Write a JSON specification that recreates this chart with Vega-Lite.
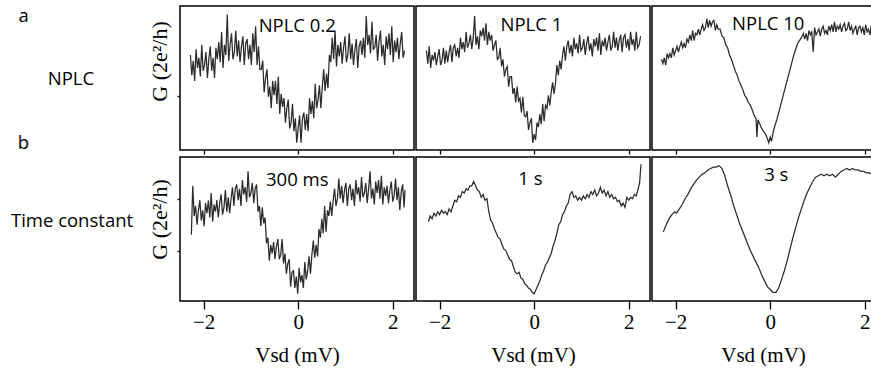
{
"$schema": "https://vega.github.io/schema/vega-lite/v6.json",
"padding": {"left": 0, "top": 5, "right": 0, "bottom": 0},
"background": "#ffffff",
"config": {
 "view": {"stroke": "#000000", "strokeWidth": 1.5},
 "axis": {"domain": false, "grid": false, "tickColor": "#000000", "tickWidth": 1.3, "labelColor": "#000000", "titleColor": "#000000"},
 "line": {"color": "#2b2b2b", "strokeWidth": 1.25},
 "text": {"font": "Open Sans", "fontSize": 18.5, "color": "#000000"}
},
"datasets": {
 "np02": [{"v":-2.28,"g":0.66},{"v":-2.25,"g":0.52},{"v":-2.22,"g":0.62},{"v":-2.19,"g":0.48},{"v":-2.16,"g":0.7},{"v":-2.13,"g":0.57},{"v":-2.1,"g":0.64},{"v":-2.07,"g":0.51},{"v":-2.04,"g":0.73},{"v":-2.01,"g":0.55},{"v":-1.98,"g":0.59},{"v":-1.95,"g":0.68},{"v":-1.92,"g":0.5},{"v":-1.89,"g":0.63},{"v":-1.86,"g":0.72},{"v":-1.83,"g":0.55},{"v":-1.8,"g":0.64},{"v":-1.77,"g":0.5},{"v":-1.74,"g":0.71},{"v":-1.71,"g":0.63},{"v":-1.68,"g":0.75},{"v":-1.65,"g":0.61},{"v":-1.62,"g":0.82},{"v":-1.59,"g":0.57},{"v":-1.56,"g":0.73},{"v":-1.53,"g":0.66},{"v":-1.5,"g":0.94},{"v":-1.47,"g":0.62},{"v":-1.44,"g":0.73},{"v":-1.41,"g":0.81},{"v":-1.38,"g":0.63},{"v":-1.35,"g":0.68},{"v":-1.32,"g":0.83},{"v":-1.29,"g":0.65},{"v":-1.26,"g":0.76},{"v":-1.23,"g":0.61},{"v":-1.2,"g":0.72},{"v":-1.17,"g":0.79},{"v":-1.14,"g":0.59},{"v":-1.11,"g":0.74},{"v":-1.08,"g":0.77},{"v":-1.05,"g":0.63},{"v":-1.02,"g":0.73},{"v":-0.99,"g":0.59},{"v":-0.96,"g":0.81},{"v":-0.93,"g":0.68},{"v":-0.9,"g":0.86},{"v":-0.87,"g":0.59},{"v":-0.84,"g":0.72},{"v":-0.81,"g":0.56},{"v":-0.78,"g":0.56},{"v":-0.75,"g":0.62},{"v":-0.72,"g":0.4},{"v":-0.69,"g":0.5},{"v":-0.66,"g":0.56},{"v":-0.63,"g":0.37},{"v":-0.6,"g":0.44},{"v":-0.57,"g":0.29},{"v":-0.54,"g":0.48},{"v":-0.51,"g":0.38},{"v":-0.48,"g":0.48},{"v":-0.45,"g":0.32},{"v":-0.42,"g":0.51},{"v":-0.39,"g":0.25},{"v":-0.36,"g":0.39},{"v":-0.33,"g":0.3},{"v":-0.3,"g":0.36},{"v":-0.27,"g":0.19},{"v":-0.24,"g":0.29},{"v":-0.21,"g":0.35},{"v":-0.18,"g":0.15},{"v":-0.15,"g":0.19},{"v":-0.12,"g":0.32},{"v":-0.09,"g":0.13},{"v":-0.06,"g":0.22},{"v":-0.03,"g":0.05},{"v":0.0,"g":0.15},{"v":0.03,"g":0.24},{"v":0.06,"g":0.05},{"v":0.09,"g":0.22},{"v":0.12,"g":0.26},{"v":0.15,"g":0.14},{"v":0.18,"g":0.25},{"v":0.21,"g":0.13},{"v":0.24,"g":0.36},{"v":0.27,"g":0.25},{"v":0.3,"g":0.34},{"v":0.33,"g":0.22},{"v":0.36,"g":0.46},{"v":0.39,"g":0.29},{"v":0.42,"g":0.35},{"v":0.45,"g":0.45},{"v":0.48,"g":0.29},{"v":0.51,"g":0.44},{"v":0.54,"g":0.56},{"v":0.57,"g":0.41},{"v":0.6,"g":0.53},{"v":0.63,"g":0.43},{"v":0.66,"g":0.66},{"v":0.69,"g":0.61},{"v":0.72,"g":0.78},{"v":0.75,"g":0.63},{"v":0.78,"g":0.83},{"v":0.81,"g":0.58},{"v":0.84,"g":0.73},{"v":0.87,"g":0.65},{"v":0.9,"g":0.75},{"v":0.93,"g":0.6},{"v":0.96,"g":0.71},{"v":0.99,"g":0.79},{"v":1.02,"g":0.61},{"v":1.05,"g":0.66},{"v":1.08,"g":0.81},{"v":1.11,"g":0.63},{"v":1.14,"g":0.74},{"v":1.17,"g":0.59},{"v":1.2,"g":0.7},{"v":1.23,"g":0.77},{"v":1.26,"g":0.57},{"v":1.29,"g":0.72},{"v":1.32,"g":0.76},{"v":1.35,"g":0.66},{"v":1.38,"g":0.78},{"v":1.41,"g":0.64},{"v":1.44,"g":0.93},{"v":1.47,"g":0.73},{"v":1.5,"g":0.8},{"v":1.53,"g":0.67},{"v":1.56,"g":0.89},{"v":1.59,"g":0.7},{"v":1.62,"g":0.71},{"v":1.65,"g":0.8},{"v":1.68,"g":0.62},{"v":1.71,"g":0.75},{"v":1.74,"g":0.83},{"v":1.77,"g":0.65},{"v":1.8,"g":0.73},{"v":1.83,"g":0.59},{"v":1.86,"g":0.79},{"v":1.89,"g":0.7},{"v":1.92,"g":0.81},{"v":1.95,"g":0.66},{"v":1.98,"g":0.86},{"v":2.01,"g":0.61},{"v":2.04,"g":0.76},{"v":2.07,"g":0.68},{"v":2.1,"g":0.78},{"v":2.13,"g":0.63},{"v":2.16,"g":0.74},{"v":2.19,"g":0.82},{"v":2.22,"g":0.64},{"v":2.25,"g":0.69}],
 "np1": [{"v":-2.28,"g":0.69},{"v":-2.25,"g":0.6},{"v":-2.22,"g":0.72},{"v":-2.19,"g":0.57},{"v":-2.16,"g":0.66},{"v":-2.13,"g":0.62},{"v":-2.1,"g":0.68},{"v":-2.07,"g":0.59},{"v":-2.04,"g":0.65},{"v":-2.01,"g":0.7},{"v":-1.98,"g":0.59},{"v":-1.95,"g":0.62},{"v":-1.92,"g":0.71},{"v":-1.89,"g":0.6},{"v":-1.86,"g":0.69},{"v":-1.83,"g":0.61},{"v":-1.8,"g":0.68},{"v":-1.77,"g":0.73},{"v":-1.74,"g":0.61},{"v":-1.71,"g":0.71},{"v":-1.68,"g":0.73},{"v":-1.65,"g":0.65},{"v":-1.62,"g":0.71},{"v":-1.59,"g":0.64},{"v":-1.56,"g":0.78},{"v":-1.53,"g":0.7},{"v":-1.5,"g":0.75},{"v":-1.47,"g":0.68},{"v":-1.44,"g":0.82},{"v":-1.41,"g":0.71},{"v":-1.38,"g":0.74},{"v":-1.35,"g":0.8},{"v":-1.32,"g":0.7},{"v":-1.29,"g":0.78},{"v":-1.26,"g":0.93},{"v":-1.23,"g":0.73},{"v":-1.2,"g":0.79},{"v":-1.17,"g":0.7},{"v":-1.14,"g":0.83},{"v":-1.11,"g":0.79},{"v":-1.08,"g":0.85},{"v":-1.05,"g":0.76},{"v":-1.02,"g":0.88},{"v":-0.99,"g":0.73},{"v":-0.96,"g":0.82},{"v":-0.93,"g":0.76},{"v":-0.9,"g":0.8},{"v":-0.87,"g":0.69},{"v":-0.84,"g":0.73},{"v":-0.81,"g":0.76},{"v":-0.78,"g":0.63},{"v":-0.75,"g":0.64},{"v":-0.72,"g":0.71},{"v":-0.69,"g":0.58},{"v":-0.66,"g":0.63},{"v":-0.63,"g":0.51},{"v":-0.6,"g":0.56},{"v":-0.57,"g":0.58},{"v":-0.54,"g":0.44},{"v":-0.51,"g":0.51},{"v":-0.48,"g":0.51},{"v":-0.45,"g":0.39},{"v":-0.42,"g":0.43},{"v":-0.39,"g":0.33},{"v":-0.36,"g":0.44},{"v":-0.33,"g":0.34},{"v":-0.3,"g":0.36},{"v":-0.27,"g":0.26},{"v":-0.24,"g":0.37},{"v":-0.21,"g":0.24},{"v":-0.18,"g":0.23},{"v":-0.15,"g":0.27},{"v":-0.12,"g":0.14},{"v":-0.09,"g":0.19},{"v":-0.06,"g":0.22},{"v":-0.03,"g":0.05},{"v":0.0,"g":0.11},{"v":0.03,"g":0.07},{"v":0.06,"g":0.19},{"v":0.09,"g":0.16},{"v":0.12,"g":0.25},{"v":0.15,"g":0.18},{"v":0.18,"g":0.32},{"v":0.21,"g":0.2},{"v":0.24,"g":0.31},{"v":0.27,"g":0.29},{"v":0.3,"g":0.38},{"v":0.33,"g":0.31},{"v":0.36,"g":0.4},{"v":0.39,"g":0.47},{"v":0.42,"g":0.39},{"v":0.45,"g":0.46},{"v":0.48,"g":0.59},{"v":0.51,"g":0.52},{"v":0.54,"g":0.62},{"v":0.57,"g":0.56},{"v":0.6,"g":0.66},{"v":0.63,"g":0.72},{"v":0.66,"g":0.62},{"v":0.69,"g":0.72},{"v":0.72,"g":0.76},{"v":0.75,"g":0.67},{"v":0.78,"g":0.73},{"v":0.81,"g":0.65},{"v":0.84,"g":0.78},{"v":0.87,"g":0.7},{"v":0.9,"g":0.74},{"v":0.93,"g":0.67},{"v":0.96,"g":0.8},{"v":0.99,"g":0.69},{"v":1.02,"g":0.71},{"v":1.05,"g":0.77},{"v":1.08,"g":0.66},{"v":1.11,"g":0.74},{"v":1.14,"g":0.79},{"v":1.17,"g":0.69},{"v":1.2,"g":0.74},{"v":1.23,"g":0.65},{"v":1.26,"g":0.77},{"v":1.29,"g":0.72},{"v":1.32,"g":0.78},{"v":1.35,"g":0.69},{"v":1.38,"g":0.81},{"v":1.41,"g":0.66},{"v":1.44,"g":0.76},{"v":1.47,"g":0.72},{"v":1.5,"g":0.78},{"v":1.53,"g":0.69},{"v":1.56,"g":0.75},{"v":1.59,"g":0.8},{"v":1.62,"g":0.69},{"v":1.65,"g":0.72},{"v":1.68,"g":0.82},{"v":1.71,"g":0.71},{"v":1.74,"g":0.78},{"v":1.77,"g":0.69},{"v":1.8,"g":0.76},{"v":1.83,"g":0.8},{"v":1.86,"g":0.68},{"v":1.89,"g":0.78},{"v":1.92,"g":0.8},{"v":1.95,"g":0.71},{"v":1.98,"g":0.77},{"v":2.01,"g":0.69},{"v":2.04,"g":0.82},{"v":2.07,"g":0.73},{"v":2.1,"g":0.77},{"v":2.13,"g":0.69},{"v":2.16,"g":0.82},{"v":2.19,"g":0.71},{"v":2.22,"g":0.73},{"v":2.25,"g":0.79}],
 "np10": [{"v":-2.3,"g":0.63},{"v":-2.27,"g":0.6},{"v":-2.24,"g":0.64},{"v":-2.21,"g":0.59},{"v":-2.18,"g":0.67},{"v":-2.15,"g":0.64},{"v":-2.12,"g":0.67},{"v":-2.09,"g":0.64},{"v":-2.06,"g":0.71},{"v":-2.03,"g":0.66},{"v":-2.0,"g":0.69},{"v":-1.97,"g":0.72},{"v":-1.94,"g":0.68},{"v":-1.91,"g":0.72},{"v":-1.88,"g":0.75},{"v":-1.85,"g":0.71},{"v":-1.82,"g":0.74},{"v":-1.79,"g":0.71},{"v":-1.76,"g":0.77},{"v":-1.73,"g":0.75},{"v":-1.7,"g":0.8},{"v":-1.67,"g":0.76},{"v":-1.64,"g":0.83},{"v":-1.61,"g":0.76},{"v":-1.58,"g":0.81},{"v":-1.55,"g":0.8},{"v":-1.52,"g":0.84},{"v":-1.49,"g":0.8},{"v":-1.46,"g":0.84},{"v":-1.43,"g":0.87},{"v":-1.4,"g":0.83},{"v":-1.37,"g":0.85},{"v":-1.34,"g":0.91},{"v":-1.31,"g":0.85},{"v":-1.28,"g":0.9},{"v":-1.25,"g":0.86},{"v":-1.22,"g":0.89},{"v":-1.19,"g":0.9},{"v":-1.16,"g":0.83},{"v":-1.13,"g":0.87},{"v":-1.1,"g":0.84},{"v":-1.06,"g":0.84},{"v":-1.02,"g":0.79},{"v":-0.98,"g":0.78},{"v":-0.94,"g":0.73},{"v":-0.9,"g":0.71},{"v":-0.86,"g":0.66},{"v":-0.82,"g":0.63},{"v":-0.78,"g":0.59},{"v":-0.74,"g":0.55},{"v":-0.7,"g":0.52},{"v":-0.66,"g":0.48},{"v":-0.62,"g":0.45},{"v":-0.58,"g":0.42},{"v":-0.54,"g":0.38},{"v":-0.5,"g":0.36},{"v":-0.46,"g":0.33},{"v":-0.42,"g":0.31},{"v":-0.38,"g":0.28},{"v":-0.34,"g":0.24},{"v":-0.3,"g":0.22},{"v":-0.28,"g":0.09},{"v":-0.26,"g":0.21},{"v":-0.22,"g":0.18},{"v":-0.18,"g":0.15},{"v":-0.14,"g":0.13},{"v":-0.1,"g":0.11},{"v":-0.06,"g":0.08},{"v":-0.03,"g":0.05},{"v":0.0,"g":0.09},{"v":0.03,"g":0.06},{"v":0.06,"g":0.12},{"v":0.1,"g":0.17},{"v":0.14,"g":0.21},{"v":0.18,"g":0.26},{"v":0.22,"g":0.31},{"v":0.26,"g":0.36},{"v":0.3,"g":0.41},{"v":0.34,"g":0.46},{"v":0.38,"g":0.51},{"v":0.42,"g":0.56},{"v":0.46,"g":0.61},{"v":0.5,"g":0.66},{"v":0.54,"g":0.7},{"v":0.58,"g":0.74},{"v":0.62,"g":0.76},{"v":0.66,"g":0.78},{"v":0.7,"g":0.81},{"v":0.73,"g":0.77},{"v":0.76,"g":0.81},{"v":0.79,"g":0.76},{"v":0.82,"g":0.83},{"v":0.85,"g":0.8},{"v":0.88,"g":0.82},{"v":0.91,"g":0.68},{"v":0.94,"g":0.85},{"v":0.97,"g":0.8},{"v":1.0,"g":0.82},{"v":1.03,"g":0.84},{"v":1.06,"g":0.79},{"v":1.09,"g":0.84},{"v":1.12,"g":0.86},{"v":1.15,"g":0.81},{"v":1.18,"g":0.83},{"v":1.21,"g":0.8},{"v":1.24,"g":0.86},{"v":1.27,"g":0.83},{"v":1.3,"g":0.87},{"v":1.33,"g":0.82},{"v":1.36,"g":0.89},{"v":1.39,"g":0.82},{"v":1.42,"g":0.86},{"v":1.45,"g":0.84},{"v":1.48,"g":0.87},{"v":1.51,"g":0.82},{"v":1.54,"g":0.86},{"v":1.57,"g":0.88},{"v":1.6,"g":0.83},{"v":1.63,"g":0.84},{"v":1.66,"g":0.89},{"v":1.69,"g":0.83},{"v":1.72,"g":0.86},{"v":1.75,"g":0.81},{"v":1.78,"g":0.84},{"v":1.81,"g":0.86},{"v":1.84,"g":0.8},{"v":1.87,"g":0.85},{"v":1.9,"g":0.86},{"v":1.93,"g":0.82},{"v":1.96,"g":0.85},{"v":1.99,"g":0.8},{"v":2.02,"g":0.87},{"v":2.05,"g":0.82},{"v":2.08,"g":0.84},{"v":2.11,"g":0.8},{"v":2.14,"g":0.87},{"v":2.17,"g":0.81},{"v":2.2,"g":0.83}],
 "tc300": [{"v":-2.26,"g":0.46},{"v":-2.23,"g":0.8},{"v":-2.2,"g":0.59},{"v":-2.17,"g":0.66},{"v":-2.14,"g":0.53},{"v":-2.11,"g":0.63},{"v":-2.08,"g":0.7},{"v":-2.05,"g":0.56},{"v":-2.02,"g":0.63},{"v":-1.99,"g":0.52},{"v":-1.96,"g":0.68},{"v":-1.93,"g":0.61},{"v":-1.9,"g":0.7},{"v":-1.87,"g":0.58},{"v":-1.84,"g":0.75},{"v":-1.81,"g":0.55},{"v":-1.78,"g":0.67},{"v":-1.75,"g":0.62},{"v":-1.72,"g":0.7},{"v":-1.69,"g":0.58},{"v":-1.66,"g":0.68},{"v":-1.63,"g":0.74},{"v":-1.6,"g":0.6},{"v":-1.57,"g":0.65},{"v":-1.54,"g":0.77},{"v":-1.51,"g":0.62},{"v":-1.48,"g":0.72},{"v":-1.45,"g":0.61},{"v":-1.42,"g":0.71},{"v":-1.39,"g":0.79},{"v":-1.36,"g":0.66},{"v":-1.33,"g":0.78},{"v":-1.3,"g":0.81},{"v":-1.27,"g":0.7},{"v":-1.24,"g":0.78},{"v":-1.21,"g":0.66},{"v":-1.18,"g":0.84},{"v":-1.15,"g":0.74},{"v":-1.12,"g":0.79},{"v":-1.09,"g":0.69},{"v":-1.06,"g":0.9},{"v":-1.03,"g":0.72},{"v":-1.0,"g":0.75},{"v":-0.97,"g":0.82},{"v":-0.94,"g":0.68},{"v":-0.91,"g":0.78},{"v":-0.88,"g":0.81},{"v":-0.85,"g":0.62},{"v":-0.82,"g":0.66},{"v":-0.79,"g":0.52},{"v":-0.76,"g":0.65},{"v":-0.73,"g":0.54},{"v":-0.7,"g":0.58},{"v":-0.67,"g":0.4},{"v":-0.64,"g":0.44},{"v":-0.61,"g":0.28},{"v":-0.58,"g":0.39},{"v":-0.55,"g":0.33},{"v":-0.52,"g":0.41},{"v":-0.49,"g":0.29},{"v":-0.46,"g":0.38},{"v":-0.43,"g":0.43},{"v":-0.4,"g":0.29},{"v":-0.37,"g":0.32},{"v":-0.34,"g":0.43},{"v":-0.31,"g":0.26},{"v":-0.28,"g":0.33},{"v":-0.25,"g":0.19},{"v":-0.22,"g":0.26},{"v":-0.19,"g":0.29},{"v":-0.16,"g":0.1},{"v":-0.13,"g":0.2},{"v":-0.1,"g":0.21},{"v":-0.07,"g":0.09},{"v":-0.04,"g":0.17},{"v":-0.01,"g":0.05},{"v":0.02,"g":0.23},{"v":0.05,"g":0.13},{"v":0.08,"g":0.18},{"v":0.11,"g":0.09},{"v":0.14,"g":0.27},{"v":0.17,"g":0.15},{"v":0.2,"g":0.21},{"v":0.23,"g":0.31},{"v":0.26,"g":0.19},{"v":0.29,"g":0.32},{"v":0.32,"g":0.42},{"v":0.35,"g":0.3},{"v":0.38,"g":0.39},{"v":0.41,"g":0.31},{"v":0.44,"g":0.5},{"v":0.47,"g":0.44},{"v":0.5,"g":0.57},{"v":0.53,"g":0.47},{"v":0.56,"g":0.66},{"v":0.59,"g":0.48},{"v":0.62,"g":0.63},{"v":0.65,"g":0.59},{"v":0.68,"g":0.69},{"v":0.71,"g":0.59},{"v":0.74,"g":0.7},{"v":0.77,"g":0.78},{"v":0.8,"g":0.66},{"v":0.83,"g":0.71},{"v":0.86,"g":0.85},{"v":0.89,"g":0.71},{"v":0.92,"g":0.8},{"v":0.95,"g":0.68},{"v":0.98,"g":0.77},{"v":1.01,"g":0.82},{"v":1.04,"g":0.66},{"v":1.07,"g":0.78},{"v":1.1,"g":0.81},{"v":1.13,"g":0.7},{"v":1.16,"g":0.78},{"v":1.19,"g":0.66},{"v":1.22,"g":0.84},{"v":1.25,"g":0.74},{"v":1.28,"g":0.79},{"v":1.31,"g":0.69},{"v":1.34,"g":0.86},{"v":1.37,"g":0.72},{"v":1.4,"g":0.75},{"v":1.43,"g":0.82},{"v":1.46,"g":0.68},{"v":1.49,"g":0.78},{"v":1.52,"g":0.9},{"v":1.55,"g":0.71},{"v":1.58,"g":0.78},{"v":1.61,"g":0.67},{"v":1.64,"g":0.83},{"v":1.67,"g":0.75},{"v":1.7,"g":0.84},{"v":1.73,"g":0.71},{"v":1.76,"g":0.87},{"v":1.79,"g":0.67},{"v":1.82,"g":0.79},{"v":1.85,"g":0.73},{"v":1.88,"g":0.8},{"v":1.91,"g":0.68},{"v":1.94,"g":0.77},{"v":1.97,"g":0.83},{"v":2.0,"g":0.69},{"v":2.03,"g":0.73},{"v":2.06,"g":0.85},{"v":2.09,"g":0.7},{"v":2.12,"g":0.79},{"v":2.15,"g":0.63},{"v":2.18,"g":0.76},{"v":2.21,"g":0.81},{"v":2.24,"g":0.65},{"v":2.26,"g":0.77}],
 "tc1": [{"v":-2.24,"g":0.55},{"v":-2.2,"g":0.59},{"v":-2.16,"g":0.57},{"v":-2.12,"g":0.61},{"v":-2.08,"g":0.59},{"v":-2.04,"g":0.62},{"v":-2.0,"g":0.6},{"v":-1.96,"g":0.63},{"v":-1.92,"g":0.61},{"v":-1.88,"g":0.62},{"v":-1.84,"g":0.6},{"v":-1.8,"g":0.64},{"v":-1.76,"g":0.62},{"v":-1.72,"g":0.66},{"v":-1.68,"g":0.7},{"v":-1.64,"g":0.69},{"v":-1.6,"g":0.73},{"v":-1.56,"g":0.72},{"v":-1.52,"g":0.76},{"v":-1.48,"g":0.75},{"v":-1.44,"g":0.78},{"v":-1.4,"g":0.77},{"v":-1.36,"g":0.8},{"v":-1.32,"g":0.8},{"v":-1.28,"g":0.83},{"v":-1.24,"g":0.8},{"v":-1.2,"g":0.77},{"v":-1.16,"g":0.76},{"v":-1.12,"g":0.72},{"v":-1.08,"g":0.74},{"v":-1.04,"g":0.7},{"v":-1.0,"g":0.71},{"v":-0.96,"g":0.62},{"v":-0.92,"g":0.56},{"v":-0.88,"g":0.54},{"v":-0.84,"g":0.5},{"v":-0.8,"g":0.47},{"v":-0.76,"g":0.44},{"v":-0.72,"g":0.43},{"v":-0.68,"g":0.39},{"v":-0.64,"g":0.36},{"v":-0.6,"g":0.35},{"v":-0.56,"g":0.32},{"v":-0.52,"g":0.29},{"v":-0.48,"g":0.28},{"v":-0.44,"g":0.24},{"v":-0.4,"g":0.2},{"v":-0.36,"g":0.19},{"v":-0.32,"g":0.2},{"v":-0.28,"g":0.16},{"v":-0.24,"g":0.15},{"v":-0.2,"g":0.12},{"v":-0.16,"g":0.11},{"v":-0.12,"g":0.09},{"v":-0.08,"g":0.08},{"v":-0.04,"g":0.06},{"v":0.0,"g":0.05},{"v":0.04,"g":0.08},{"v":0.08,"g":0.11},{"v":0.12,"g":0.14},{"v":0.16,"g":0.18},{"v":0.2,"g":0.21},{"v":0.24,"g":0.25},{"v":0.28,"g":0.27},{"v":0.32,"g":0.3},{"v":0.36,"g":0.33},{"v":0.4,"g":0.38},{"v":0.44,"g":0.42},{"v":0.48,"g":0.47},{"v":0.52,"g":0.53},{"v":0.56,"g":0.55},{"v":0.6,"g":0.6},{"v":0.64,"g":0.62},{"v":0.68,"g":0.66},{"v":0.72,"g":0.68},{"v":0.76,"g":0.74},{"v":0.8,"g":0.76},{"v":0.84,"g":0.72},{"v":0.88,"g":0.73},{"v":0.92,"g":0.7},{"v":0.96,"g":0.72},{"v":1.0,"g":0.7},{"v":1.04,"g":0.73},{"v":1.08,"g":0.71},{"v":1.12,"g":0.74},{"v":1.16,"g":0.72},{"v":1.2,"g":0.76},{"v":1.24,"g":0.74},{"v":1.28,"g":0.77},{"v":1.32,"g":0.73},{"v":1.36,"g":0.75},{"v":1.4,"g":0.79},{"v":1.44,"g":0.75},{"v":1.48,"g":0.77},{"v":1.52,"g":0.73},{"v":1.56,"g":0.76},{"v":1.6,"g":0.72},{"v":1.64,"g":0.74},{"v":1.68,"g":0.71},{"v":1.72,"g":0.72},{"v":1.76,"g":0.69},{"v":1.8,"g":0.7},{"v":1.84,"g":0.66},{"v":1.88,"g":0.68},{"v":1.92,"g":0.65},{"v":1.96,"g":0.72},{"v":2.0,"g":0.7},{"v":2.04,"g":0.72},{"v":2.08,"g":0.71},{"v":2.12,"g":0.74},{"v":2.16,"g":0.73},{"v":2.2,"g":0.78},{"v":2.23,"g":0.82},{"v":2.26,"g":0.95}],
 "tc3": [{"v":-2.26,"g":0.48},{"v":-2.2,"g":0.53},{"v":-2.14,"g":0.57},{"v":-2.08,"g":0.6},{"v":-2.02,"g":0.62},{"v":-1.98,"g":0.61},{"v":-1.92,"g":0.64},{"v":-1.86,"g":0.67},{"v":-1.8,"g":0.71},{"v":-1.74,"g":0.74},{"v":-1.68,"g":0.78},{"v":-1.62,"g":0.81},{"v":-1.56,"g":0.84},{"v":-1.5,"g":0.86},{"v":-1.44,"g":0.88},{"v":-1.38,"g":0.89},{"v":-1.32,"g":0.91},{"v":-1.26,"g":0.92},{"v":-1.2,"g":0.93},{"v":-1.14,"g":0.93},{"v":-1.08,"g":0.94},{"v":-1.02,"g":0.92},{"v":-0.96,"g":0.87},{"v":-0.9,"g":0.8},{"v":-0.84,"g":0.74},{"v":-0.78,"g":0.67},{"v":-0.72,"g":0.61},{"v":-0.66,"g":0.55},{"v":-0.6,"g":0.5},{"v":-0.54,"g":0.45},{"v":-0.48,"g":0.4},{"v":-0.42,"g":0.35},{"v":-0.36,"g":0.31},{"v":-0.3,"g":0.27},{"v":-0.24,"g":0.23},{"v":-0.18,"g":0.18},{"v":-0.12,"g":0.14},{"v":-0.06,"g":0.1},{"v":0.0,"g":0.08},{"v":0.06,"g":0.06},{"v":0.12,"g":0.06},{"v":0.18,"g":0.09},{"v":0.24,"g":0.15},{"v":0.3,"g":0.21},{"v":0.36,"g":0.28},{"v":0.42,"g":0.36},{"v":0.48,"g":0.44},{"v":0.54,"g":0.51},{"v":0.6,"g":0.58},{"v":0.66,"g":0.64},{"v":0.72,"g":0.7},{"v":0.78,"g":0.75},{"v":0.84,"g":0.79},{"v":0.9,"g":0.83},{"v":0.96,"g":0.86},{"v":1.02,"g":0.87},{"v":1.08,"g":0.88},{"v":1.14,"g":0.87},{"v":1.2,"g":0.88},{"v":1.26,"g":0.87},{"v":1.32,"g":0.88},{"v":1.38,"g":0.86},{"v":1.44,"g":0.88},{"v":1.5,"g":0.9},{"v":1.56,"g":0.91},{"v":1.62,"g":0.92},{"v":1.68,"g":0.91},{"v":1.74,"g":0.92},{"v":1.8,"g":0.91},{"v":1.86,"g":0.91},{"v":1.92,"g":0.9},{"v":1.98,"g":0.9},{"v":2.04,"g":0.89},{"v":2.1,"g":0.89},{"v":2.16,"g":0.88},{"v":2.2,"g":0.88}]
},
"spacing": 0,
"vconcat": [
 {"spacing": 0, "hconcat": [
  {"width": 147, "height": 144, "view": {"stroke": null}, "data": {"values": [{}]},
   "layer": [
    {"mark": "text", "encoding": {"x": {"datum": 0.16, "type": "quantitative", "scale": {"domain": [0, 1]}, "axis": null}, "y": {"datum": 0.93, "type": "quantitative", "scale": {"domain": [0, 1]}, "axis": null}, "text": {"value": "a"}}},
    {"mark": "text", "encoding": {"x": {"datum": 0.483, "type": "quantitative"}, "y": {"datum": 0.493, "type": "quantitative"}, "text": {"value": "NPLC"}}},
    {"mark": "text", "encoding": {"x": {"datum": 0.16, "type": "quantitative"}, "y": {"datum": 0.05, "type": "quantitative"}, "text": {"value": "b"}}}
   ]},
  {"width": 234, "height": 144,
   "layer": [
    {"data": {"name": "np02"}, "mark": "line", "encoding": {
      "x": {"field": "v", "type": "quantitative", "scale": {"domain": [-2.5, 2.45], "nice": false, "zero": false}, "axis": {"values": [-2, 0, 2], "labels": false, "title": null, "tickSize": 4}},
      "y": {"field": "g", "type": "quantitative", "scale": {"domain": [0, 1], "nice": false, "zero": false}, "axis": {"values": [0.375], "labels": false, "tickSize": 3, "title": "G (2e²/h)", "titleFont": "Liberation Serif", "titleFontSize": 22, "titleFontWeight": "normal", "titlePadding": 5, "titleAlign": "center", "titleY": 55}}}},
    {"data": {"values": [{}]}, "mark": "text", "encoding": {"x": {"datum": -0.02, "type": "quantitative"}, "y": {"datum": 0.86, "type": "quantitative"}, "text": {"value": "NPLC 0.2"}}}
   ]},
  {"width": 234, "height": 144,
   "layer": [
    {"data": {"name": "np1"}, "mark": "line", "encoding": {
      "x": {"field": "v", "type": "quantitative", "scale": {"domain": [-2.5, 2.45], "nice": false, "zero": false}, "axis": {"values": [-2, 0, 2], "labels": false, "title": null, "tickSize": 4}},
      "y": {"field": "g", "type": "quantitative", "scale": {"domain": [0, 1], "nice": false, "zero": false}, "axis": null}}},
    {"data": {"values": [{}]}, "mark": "text", "encoding": {"x": {"datum": -0.06, "type": "quantitative"}, "y": {"datum": 0.865, "type": "quantitative"}, "text": {"value": "NPLC 1"}}}
   ]},
  {"width": 222, "height": 144,
   "layer": [
    {"data": {"name": "np10"}, "mark": "line", "encoding": {
      "x": {"field": "v", "type": "quantitative", "scale": {"domain": [-2.5, 2.196], "nice": false, "zero": false}, "axis": {"values": [-2, 0, 2], "labels": false, "title": null, "tickSize": 4}},
      "y": {"field": "g", "type": "quantitative", "scale": {"domain": [0, 1], "nice": false, "zero": false}, "axis": null}}},
    {"data": {"values": [{}]}, "mark": "text", "encoding": {"x": {"datum": -0.04, "type": "quantitative"}, "y": {"datum": 0.875, "type": "quantitative"}, "text": {"value": "NPLC 10"}}}
   ]}
 ]},
 {"spacing": 0, "hconcat": [
  {"width": 147, "height": 144, "view": {"stroke": null}, "data": {"values": [{}]},
   "layer": [
    {"mark": "text", "encoding": {"x": {"datum": 0.49, "type": "quantitative", "scale": {"domain": [0, 1]}, "axis": null}, "y": {"datum": 0.555, "type": "quantitative", "scale": {"domain": [0, 1]}, "axis": null}, "text": {"value": "Time constant"}}}
   ]},
  {"width": 234, "height": 144,
   "layer": [
    {"data": {"name": "tc300"}, "mark": "line", "encoding": {
      "x": {"field": "v", "type": "quantitative", "scale": {"domain": [-2.5, 2.45], "nice": false, "zero": false}, "axis": {"values": [-2, 0, 2], "tickSize": 8, "title": "Vsd (mV)", "labelFont": "Liberation Serif", "labelFontSize": 21, "labelPadding": 2, "titleFont": "Liberation Serif", "titleFontSize": 21, "titleFontWeight": "normal", "titlePadding": 12}},
      "y": {"field": "g", "type": "quantitative", "scale": {"domain": [0, 1], "nice": false, "zero": false}, "axis": {"values": [0.347, 0.708], "labels": false, "tickSize": 3, "title": "G (2e²/h)", "titleFont": "Liberation Serif", "titleFontSize": 22, "titleFontWeight": "normal", "titlePadding": 5, "titleAlign": "center", "titleY": 62}}}},
    {"data": {"values": [{}]}, "mark": "text", "encoding": {"x": {"datum": -0.02, "type": "quantitative"}, "y": {"datum": 0.84, "type": "quantitative"}, "text": {"value": "300 ms"}}}
   ]},
  {"width": 234, "height": 144,
   "layer": [
    {"data": {"name": "tc1"}, "mark": "line", "encoding": {
      "x": {"field": "v", "type": "quantitative", "scale": {"domain": [-2.5, 2.45], "nice": false, "zero": false}, "axis": {"values": [-2, 0, 2], "tickSize": 8, "title": "Vsd (mV)", "labelFont": "Liberation Serif", "labelFontSize": 21, "labelPadding": 2, "titleFont": "Liberation Serif", "titleFontSize": 21, "titleFontWeight": "normal", "titlePadding": 12}},
      "y": {"field": "g", "type": "quantitative", "scale": {"domain": [0, 1], "nice": false, "zero": false}, "axis": null}}},
    {"data": {"values": [{}]}, "mark": "text", "encoding": {"x": {"datum": -0.08, "type": "quantitative"}, "y": {"datum": 0.85, "type": "quantitative"}, "text": {"value": "1 s"}}}
   ]},
  {"width": 222, "height": 144,
   "layer": [
    {"data": {"name": "tc3"}, "mark": "line", "encoding": {
      "x": {"field": "v", "type": "quantitative", "scale": {"domain": [-2.5, 2.196], "nice": false, "zero": false}, "axis": {"values": [-2, 0, 2], "tickSize": 8, "title": "Vsd (mV)", "labelFont": "Liberation Serif", "labelFontSize": 21, "labelPadding": 2, "titleFont": "Liberation Serif", "titleFontSize": 21, "titleFontWeight": "normal", "titlePadding": 12}},
      "y": {"field": "g", "type": "quantitative", "scale": {"domain": [0, 1], "nice": false, "zero": false}, "axis": null}}},
    {"data": {"values": [{}]}, "mark": "text", "encoding": {"x": {"datum": 0.13, "type": "quantitative"}, "y": {"datum": 0.875, "type": "quantitative"}, "text": {"value": "3 s"}}}
   ]}
 ]}
]
}
